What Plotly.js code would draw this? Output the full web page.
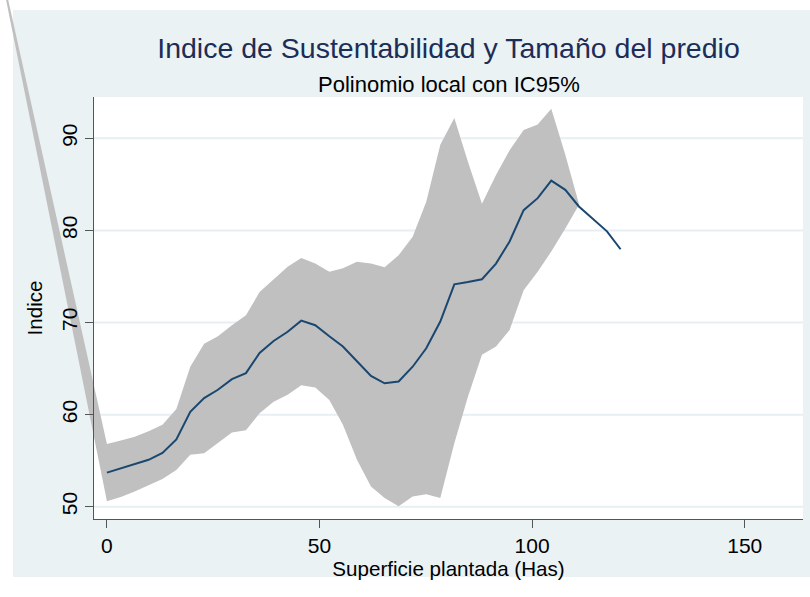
<!DOCTYPE html>
<html><head><meta charset="utf-8">
<script src="https://cdn.plot.ly/plotly-3.0.1.min.js"></script>
<style>html,body{margin:0;padding:0;background:#ffffff}</style>
</head><body>
<div id="chart" style="width:810px;height:597px"></div>
<script>
// Evaluation grid (Has)
const xGrid = [0, 3.27, 6.53, 9.8, 13.06, 16.33, 19.6, 22.86, 26.1, 29.4, 32.7, 35.9, 39.2, 42.5, 45.7, 49.0, 52.3, 55.5, 58.8, 62.1, 65.3, 68.6, 71.9, 75.1, 78.4, 81.7, 84.9, 88.2, 91.5, 94.7, 98.0, 101.3, 104.5, 107.8, 111.0, 114.3, 117.6, 120.8];
// Local polynomial fit
const fitVals = [53.7, 54.15, 54.6, 55.1, 55.85, 57.3, 60.3, 61.8, 62.7, 63.85, 64.5, 66.7, 68.0, 69.0, 70.2, 69.7, 68.5, 67.4, 65.8, 64.2, 63.4, 63.6, 65.2, 67.2, 70.1, 74.15, 74.4, 74.7, 76.4, 78.8, 82.2, 83.5, 85.4, 84.4, 82.6, 81.3, 79.9, 77.95];
// 95% CI (available up to x = 111)
const ciUpper = [56.8, 57.2, 57.6, 58.2, 58.9, 60.6, 65.2, 67.7, 68.5, 69.7, 70.8, 73.3, 74.7, 76.05, 77.0, 76.4, 75.5, 75.9, 76.6, 76.4, 76.0, 77.3, 79.3, 83.1, 89.3, 92.2, 87.45, 82.9, 86.0, 88.7, 90.9, 91.5, 93.2, 88.2, 82.9];
const ciLower = [50.6, 51.05, 51.65, 52.3, 53.0, 54.0, 55.65, 55.8, 56.9, 58.05, 58.3, 60.15, 61.4, 62.15, 63.2, 62.95, 61.6, 58.9, 55.1, 52.2, 50.95, 50.05, 51.1, 51.35, 50.95, 56.9, 61.95, 66.5, 67.4, 69.2, 73.5, 75.5, 77.7, 80.2, 82.75];
// stray leading vertex of the CI area (drawn by the original software outside the plot)
const bandStartX = [-28.5];
const bandStartY = [116];
const xTicks = [0, 50, 100, 150];
const yTicks = [50, 60, 70, 80, 90];

const W = 810, H = 597;
const P = {l: 94, r: 803, t: 97, b: 519};
const xr = [-3.04, 163.7], yr = [48.67, 94.48];
const ux = (xr[1] - xr[0]) / (P.r - P.l), uy = (yr[1] - yr[0]) / (P.b - P.t);
// full-figure axes (same scale) that carry the data, so the stray CI vertex is not clipped
const xFull = [xr[0] - P.l * ux, xr[1] + (W - P.r) * ux];
const yFull = [yr[0] - (H - P.b) * uy, yr[1] + P.t * uy];

const n = ciUpper.length;
const bx = xGrid.slice(0, n);
const bandX = bandStartX.concat(bx, bx.slice().reverse());
const bandY = bandStartY.concat(ciUpper, ciLower.slice().reverse());

const FONT = 'Liberation Sans, Arial, Helvetica, sans-serif';

const traces = [
  {x: bandX, y: bandY, type: 'scatter', mode: 'lines', fill: 'toself', fillcolor: '#C0C0C0',
   line: {width: 0, color: '#C0C0C0'}, xaxis: 'x', yaxis: 'y', hoverinfo: 'skip', showlegend: false},
  {x: xGrid, y: fitVals, type: 'scatter', mode: 'lines', line: {color: '#1A476F', width: 2},
   xaxis: 'x', yaxis: 'y', showlegend: false},
  // empty trace so that the visible frame axes (ticks, labels, titles) are created on top
  {x: [], y: [], type: 'scatter', mode: 'lines', xaxis: 'x2', yaxis: 'y2', showlegend: false, hoverinfo: 'skip'}
];

const shapes = [
  {type: 'rect', xref: 'paper', yref: 'paper', x0: 13 / W, x1: 1, y0: 1 - 577 / H, y1: 1 - 10 / H,
   fillcolor: '#EAF2F3', line: {width: 0}, layer: 'below'},
  {type: 'rect', xref: 'paper', yref: 'paper', x0: P.l / W, x1: P.r / W, y0: 1 - P.b / H, y1: 1 - P.t / H,
   fillcolor: '#ffffff', line: {width: 0}, layer: 'below'}
].concat(yTicks.map(v => ({type: 'line', xref: 'paper', yref: 'y2', x0: P.l / W, x1: P.r / W, y0: v, y1: v,
   line: {color: '#E6EFF1', width: 2}, layer: 'below'})));

const layout = {
  width: W, height: H,
  margin: {l: 0, r: 0, t: 0, b: 0},
  paper_bgcolor: '#ffffff', plot_bgcolor: 'rgba(0,0,0,0)',
  font: {family: FONT, color: '#000000'},
  showlegend: false,
  title: {text: 'Indice de Sustentabilidad y Tamaño del predio', xref: 'paper', yref: 'container',
          x: (P.l + P.r) / 2 / W, xanchor: 'center', y: 1 - 48 / H, yanchor: 'middle',
          font: {family: FONT, size: 28.5, color: '#1C2D57'}},
  annotations: [
    {text: 'Polinomio local con IC95%', xref: 'paper', yref: 'paper', x: (P.l + P.r) / 2 / W,
     y: 1 - 85 / H, xanchor: 'center', yanchor: 'middle', showarrow: false,
     font: {family: FONT, size: 22, color: '#000000'}}
  ],
  shapes: shapes,
  xaxis: {domain: [0, 1], range: xFull, anchor: 'y', visible: false, fixedrange: true},
  yaxis: {domain: [0, 1], range: yFull, anchor: 'x', visible: false, fixedrange: true},
  xaxis2: {domain: [P.l / W, P.r / W], range: xr, anchor: 'y2', tickvals: xTicks, ticktext: xTicks.map(String),
          ticks: 'outside', ticklen: 8, tickwidth: 1, tickcolor: '#555555', showline: true, linecolor: '#555555',
          linewidth: 1, showgrid: false, zeroline: false, automargin: false,
          tickfont: {family: FONT, size: 21, color: '#000'},
          title: {text: 'Superficie plantada (Has)', font: {family: FONT, size: 20.6, color: '#000'}, standoff: 1}},
  yaxis2: {domain: [1 - P.b / H, 1 - P.t / H], range: yr, anchor: 'x2', tickvals: yTicks, ticktext: yTicks.map(String),
          tickangle: -90, ticks: 'outside', ticklen: 8, tickwidth: 1, tickcolor: '#555555', showline: true,
          linecolor: '#555555', linewidth: 1, showgrid: false,
          zeroline: false, automargin: false, tickfont: {family: FONT, size: 21, color: '#000'},
          title: {text: 'Indice', font: {family: FONT, size: 20.6, color: '#000'}, standoff: 9}}
};

Plotly.newPlot('chart', traces, layout, {staticPlot: true, displayModeBar: false});
</script>
</body></html>
